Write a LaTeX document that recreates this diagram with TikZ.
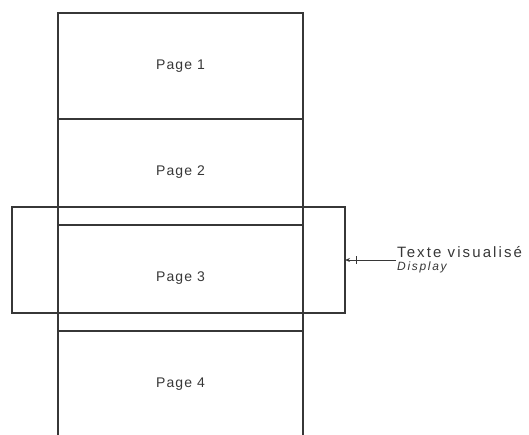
\documentclass[tikz,border=0pt]{standalone}
\usepackage{fontspec}
\setmainfont{Liberation Sans}
\newfontfamily\pagefont{Liberation Sans}[LetterSpace=8]
\newfontfamily\notefont{Liberation Sans}[LetterSpace=14]
\usetikzlibrary{calc,positioning,arrows.meta}
\definecolor{ink}{RGB}{55,55,55}
\tikzset{
  pagebox/.style={draw=ink,line width=1.2pt,minimum width=245pt,minimum height=106pt,
    inner sep=0pt,outer sep=0pt,font=\fontsize{14}{16}\selectfont\pagefont,text=ink},
  dispbox/.style={draw=ink,line width=1.2pt,minimum width=333pt,minimum height=106pt,
    inner sep=0pt,outer sep=0pt},
  notetxt/.style={align=left,inner sep=1pt,text=ink,font=\fontsize{15}{12}\selectfont\notefont},
  conn/.style={ink,line width=0.9pt},
}
\begin{document}
\begin{tikzpicture}[x=1pt,y=-1pt]
  \useasboundingbox (0,0) rectangle (529,435);
  % ---- the pages ----
  \node[pagebox] (p1) at (180.5,66) {Page 1};
  \node[pagebox,below=0pt of p1] (p2) {Page 2};
  \node[pagebox,below=0pt of p2] (p3) {Page 3};
  \node[pagebox,below=0pt of p3] (p4) {Page 4};
  % ---- what is on screen ----
  \node[dispbox] (disp) at (178.5,260) {};
  \node[notetxt,anchor=west] (note) at (396,260)
    {Texte visualisé\\[1pt]{\fontsize{12}{12}\selectfont\itshape Display}};
  \draw[conn,-{Stealth[length=5pt,width=4pt]}] (note.west) -- (disp.east);
  \coordinate (tick) at ($(disp.east)+(11,0)$);
  \draw[conn] ($(tick)+(0,-4)$) -- ($(tick)+(0,4)$);
\end{tikzpicture}
\end{document}
